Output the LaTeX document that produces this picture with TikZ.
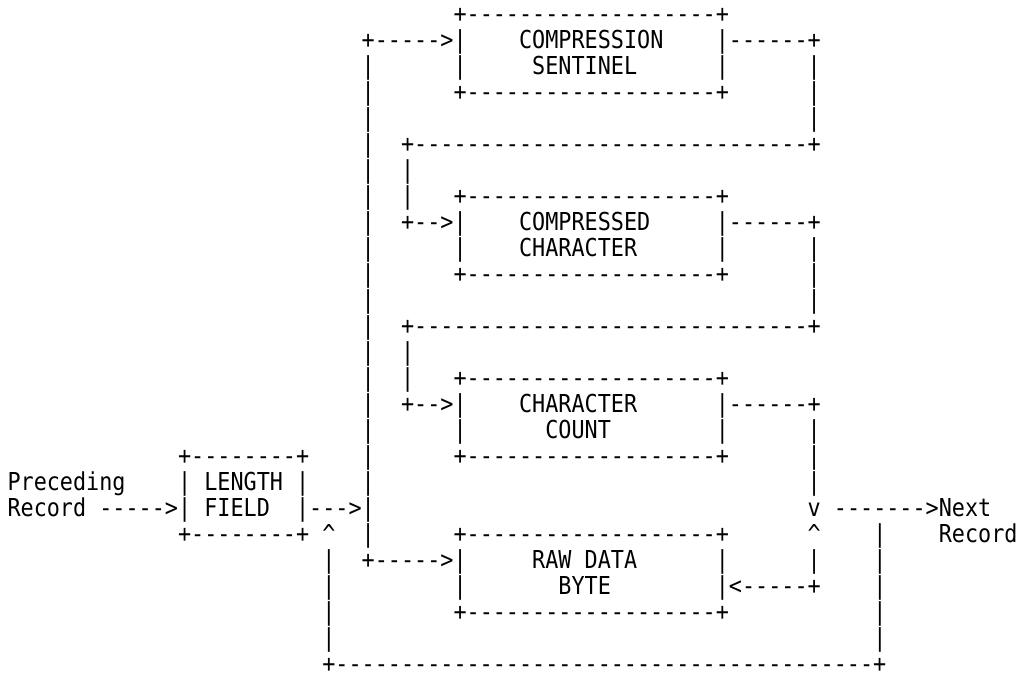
\documentclass[tikz,border=0pt]{standalone}
\usepackage{fontspec}
\setmonofont{DejaVu Sans Mono}[FakeStretch=0.882]
\ExplSyntaxOn
\cs_new:Npn \dsh #1 { \prg_replicate:nn {#1} {-} }
\ExplSyntaxOff
% one character cell: 13.117pt wide, 26pt high
\tikzset{asc/.style={inner sep=0pt, outer sep=0pt, anchor=base west,
  font=\ttfamily\fontsize{24.7pt}{26pt}\selectfont}}
\newcommand\asciiat[3]{\node[asc] (a-#1-#2) at ({7.54+13.117*(#2)},{651.5-26.0*(#1)}) {#3};}
\begin{document}
\begin{tikzpicture}[x=1pt,y=1pt]
\fill[white] (0,0) rectangle (1024,674);
\useasboundingbox (0,0) rectangle (1024,674);

% the four record boxes
\foreach \r in {0,3,7,10,14,17,20,23} {\asciiat{\r}{34}{+\dsh{19}+}}
\foreach \r in {2,9,16,22} {\asciiat{\r}{34}{|}}
\foreach \r in {2,9,16,21} {\asciiat{\r}{54}{|}}
\asciiat{1}{39}{COMPRESSION}
\asciiat{2}{40}{SENTINEL}
\asciiat{8}{39}{COMPRESSED}
\asciiat{9}{39}{CHARACTER}
\asciiat{15}{39}{CHARACTER}
\asciiat{16}{41}{COUNT}
\asciiat{21}{40}{RAW DATA}
\asciiat{22}{42}{BYTE}

% length field box and its inputs
\asciiat{17}{13}{+\dsh{8}+}
\asciiat{18}{0}{Preceding}
\asciiat{18}{13}{|}
\asciiat{18}{15}{LENGTH}
\asciiat{18}{22}{|}
\asciiat{19}{0}{Record}
\asciiat{19}{7}{\dsh{5}>|}
\asciiat{19}{15}{FIELD}
\asciiat{19}{22}{|\dsh{3}>|}
\asciiat{20}{13}{+\dsh{8}+}
\asciiat{20}{24}{\textasciicircum}

% main trunk feeding the sentinel and raw data boxes
\asciiat{1}{27}{+\dsh{5}>|}
\foreach \r in {2,...,18,20} {\asciiat{\r}{27}{|}}
\asciiat{21}{27}{+\dsh{5}>|}

% sentinel -> compressed character -> character count
\asciiat{1}{54}{|\dsh{6}+}
\foreach \r in {2,3,4} {\asciiat{\r}{61}{|}}
\asciiat{5}{30}{+\dsh{30}+}
\foreach \r in {6,7} {\asciiat{\r}{30}{|}}
\asciiat{8}{30}{+\dsh{2}>|}
\asciiat{8}{54}{|\dsh{6}+}
\foreach \r in {9,10,11} {\asciiat{\r}{61}{|}}
\asciiat{12}{30}{+\dsh{30}+}
\foreach \r in {13,14} {\asciiat{\r}{30}{|}}
\asciiat{15}{30}{+\dsh{2}>|}
\asciiat{15}{54}{|\dsh{6}+}
\foreach \r in {16,17,18} {\asciiat{\r}{61}{|}}
\asciiat{19}{61}{v}
\asciiat{19}{63}{\dsh{7}>Next}
\asciiat{20}{61}{\textasciicircum}
\asciiat{20}{71}{Record}
\asciiat{21}{61}{|}
\asciiat{22}{54}{|<\dsh{5}+}

% loop back to the length field
\foreach \r in {21,...,24} {\asciiat{\r}{24}{|}}
\foreach \r in {20,...,24} {\asciiat{\r}{66}{|}}
\asciiat{25}{24}{+\dsh{41}+}
\end{tikzpicture}
\end{document}
